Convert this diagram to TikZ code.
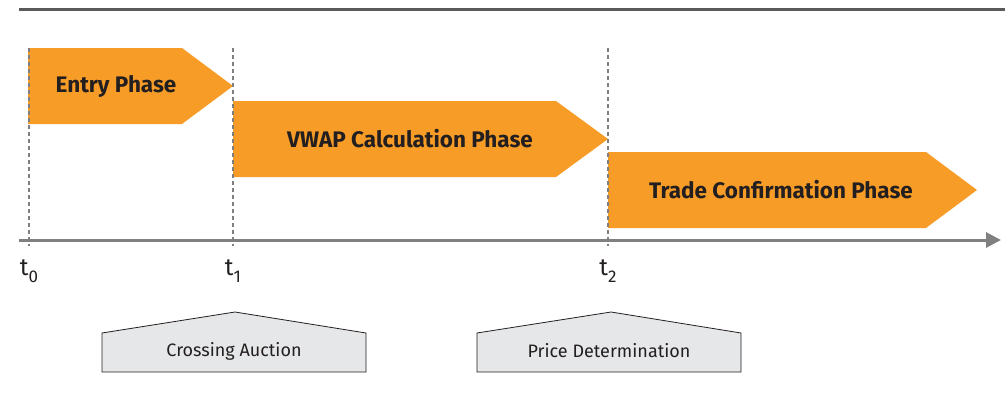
\documentclass[tikz,border=0pt]{standalone}
\usepackage{fontspec}
\setmainfont{Fira Sans}
\usepackage{tikz}
\usetikzlibrary{arrows.meta, positioning, calc}
\definecolor{phaseorange}{RGB}{247, 157, 39}
\definecolor{axisgray}{RGB}{128, 128, 128}
\definecolor{rulegray}{RGB}{90, 90, 90}
\definecolor{boxgray}{RGB}{230, 231, 232}
\definecolor{textdark}{RGB}{35, 31, 32}
\newcommand{\tsub}[1]{\raisebox{-0.3em}{\fontsize{17}{20}\selectfont #1}}

\begin{document}
\begin{tikzpicture}[
    x=1pt, y=-1pt,
    phase/.style={fill=phaseorange, draw=none},
    phaselabel/.style={font=\fontsize{22.5}{26}\selectfont\bfseries, text=textdark, inner sep=0pt},
    event/.style={fill=boxgray, draw=textdark, line width=0.8pt},
    eventlabel/.style={font=\fontsize{18}{21}\selectfont, text=textdark, inner sep=0pt},
    tick/.style={draw=axisgray, line width=1.1pt, dash pattern=on 4pt off 3pt},
    timelabel/.style={font=\fontsize{24}{28}\selectfont, text=textdark, inner sep=0pt}
]
\useasboundingbox (0, 0) rectangle (1005, 402);

% Top rule
\draw[rulegray, line width=3pt] (19, 9) -- (1005, 9);

% Time points
\coordinate (t0) at (29, 240);
\coordinate (t1) at (233, 240);
\coordinate (t2) at (608, 240);
\coordinate (axisstart) at (19, 240);
\coordinate (axisend) at (1001, 240);

% Phases
\fill[phase] (28, 48) -- (182, 48) -- (233, 86) -- (182, 124) -- (28, 124) -- cycle;
\node[phaselabel] (entry) at (116, 86) {Entry Phase};

\fill[phase] (233, 101) -- (556, 101) -- (608, 139) -- (556, 177) -- (233, 177) -- cycle;
\node[phaselabel] (vwap) at (410, 139) {VWAP Calculation Phase};

\fill[phase] (608, 152) -- (926, 152) -- (977, 190) -- (926, 228) -- (608, 228) -- cycle;
\node[phaselabel] (trade) at (781, 190) {Trade Confirmation Phase};

% Dashed markers
\foreach \t in {t0, t1, t2} {
    \draw[tick] ($(\t) + (0, -192)$) -- ($(\t) + (0, 6)$);
}

% Timeline
\draw[axisgray, line width=3pt, -{Triangle[length=15pt, width=15pt]}] (axisstart) -- (axisend);

\node[timelabel] (l0) at (29, 271) {t\tsub{0}};
\node[timelabel] (l1) at (233, 271) {t\tsub{1}};
\node[timelabel] (l2) at (608, 271) {t\tsub{2}};

% Events
\draw[event] (102, 372) -- (102, 333) -- (235, 312) -- (366, 333) -- (366, 372) -- cycle;
\node[eventlabel] (auction) at (234, 351) {Crossing Auction};

\draw[event] (477, 372) -- (477, 333) -- (611, 312) -- (741, 333) -- (741, 372) -- cycle;
\node[eventlabel] (price) at (609, 351) {Price Determination};

\end{tikzpicture}
\end{document}
